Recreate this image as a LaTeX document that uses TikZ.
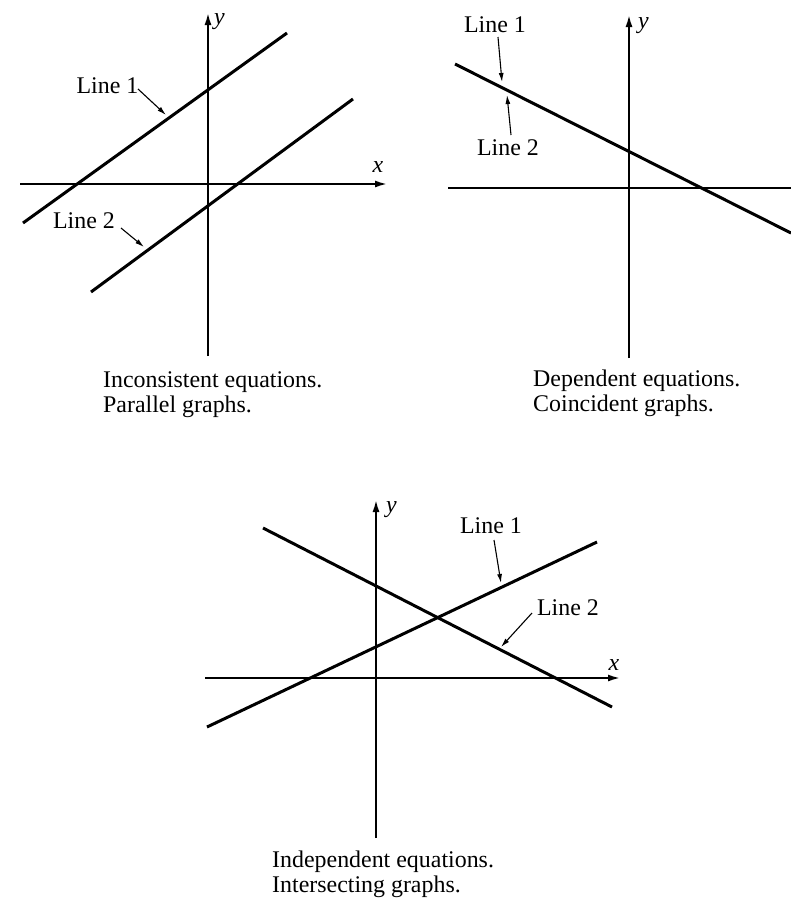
\documentclass[tikz,border=0pt]{standalone}
\usepackage{fontspec}
\setmainfont{Liberation Serif}
\usetikzlibrary{arrows.meta}
\begin{document}
\begin{tikzpicture}[x=1bp,y=-1bp,
  every node/.style={inner sep=0pt, font=\fontsize{24}{25}\selectfont},
  axis/.style={line width=1.8bp, -{Latex[length=12bp,width=7bp]}},
  plainaxis/.style={line width=1.8bp},
  graphline/.style={line width=3bp},
  lblarrow/.style={line width=1.1bp, -{Latex[length=9bp,width=5bp]}},
  captext/.style={anchor=base west},
  lbl/.style={anchor=base}]
\useasboundingbox (0,0) rectangle (791,898);

% ---------- Panel 1: inconsistent ----------
\coordinate (a1l) at (20,184); \coordinate (a1r) at (387,184);
\coordinate (a1b) at (208,356); \coordinate (a1t) at (208,13);
\draw[axis] (a1l) -- (a1r);
\draw[axis] (a1b) -- (a1t);
\node[lbl] (x1) at (378,172) {\textit{x}};
\node[anchor=base west] (y1) at (214,24) {\textit{y}};
\coordinate (p1s) at (23,223); \coordinate (p1e) at (287,33);
\coordinate (p2s) at (91,292); \coordinate (p2e) at (353,99);
\draw[graphline] (p1s) -- (p1e);
\draw[graphline] (p2s) -- (p2e);
\node[lbl] (l11) at (107.5,93) {Line 1};
\node[lbl] (l12) at (84,228) {Line 2};
\coordinate (l11s) at (138,89); \coordinate (l11t) at (166,115);
\coordinate (l12s) at (121,228); \coordinate (l12t) at (144,247);
\draw[lblarrow] (l11s) -- (l11t);
\draw[lblarrow] (l12s) -- (l12t);
\node[captext] (c1a) at (103,387) {Inconsistent equations.};
\node[captext] (c1b) at (103,412) {Parallel graphs.};

% ---------- Panel 2: dependent ----------
\coordinate (a2l) at (448,188); \coordinate (a2r) at (791,188);
\coordinate (a2b) at (629,358); \coordinate (a2t) at (629,15);
\draw[plainaxis] (a2l) -- (a2r);
\draw[axis] (a2b) -- (a2t);
\node[anchor=base west] (y2) at (638,28) {\textit{y}};
\coordinate (q1s) at (455,64); \coordinate (q1e) at (791,233);
\draw[graphline] (q1s) -- (q1e);
\node[lbl] (l21) at (495,32) {Line 1};
\node[lbl] (l22) at (508,155) {Line 2};
\coordinate (l21s) at (498,37); \coordinate (l21t) at (502,82);
\coordinate (l22s) at (511,135); \coordinate (l22t) at (507,95);
\draw[lblarrow] (l21s) -- (l21t);
\draw[lblarrow] (l22s) -- (l22t);
\node[captext] (c2a) at (533,386) {Dependent equations.};
\node[captext] (c2b) at (533,411) {Coincident graphs.};

% ---------- Panel 3: independent ----------
\coordinate (a3l) at (205,678); \coordinate (a3r) at (620,678);
\coordinate (a3b) at (376,838); \coordinate (a3t) at (376,500);
\draw[axis] (a3l) -- (a3r);
\draw[axis] (a3b) -- (a3t);
\node[lbl] (x3) at (614,670) {\textit{x}};
\node[anchor=base west] (y3) at (386,512) {\textit{y}};
\coordinate (r1s) at (207,727); \coordinate (r1e) at (597,542);
\coordinate (r2s) at (263,528); \coordinate (r2e) at (612,707);
\draw[graphline] (r1s) -- (r1e);
\draw[graphline] (r2s) -- (r2e);
\node[lbl] (l31) at (491,533) {Line 1};
\node[lbl] (l32) at (568,615) {Line 2};
\coordinate (l31s) at (494,540); \coordinate (l31t) at (501,583);
\coordinate (l32s) at (532,613); \coordinate (l32t) at (501,647);
\draw[lblarrow] (l31s) -- (l31t);
\draw[lblarrow] (l32s) -- (l32t);
\node[captext] (c3a) at (272,867) {Independent equations.};
\node[captext] (c3b) at (272,892) {Intersecting graphs.};
\end{tikzpicture}
\end{document}
